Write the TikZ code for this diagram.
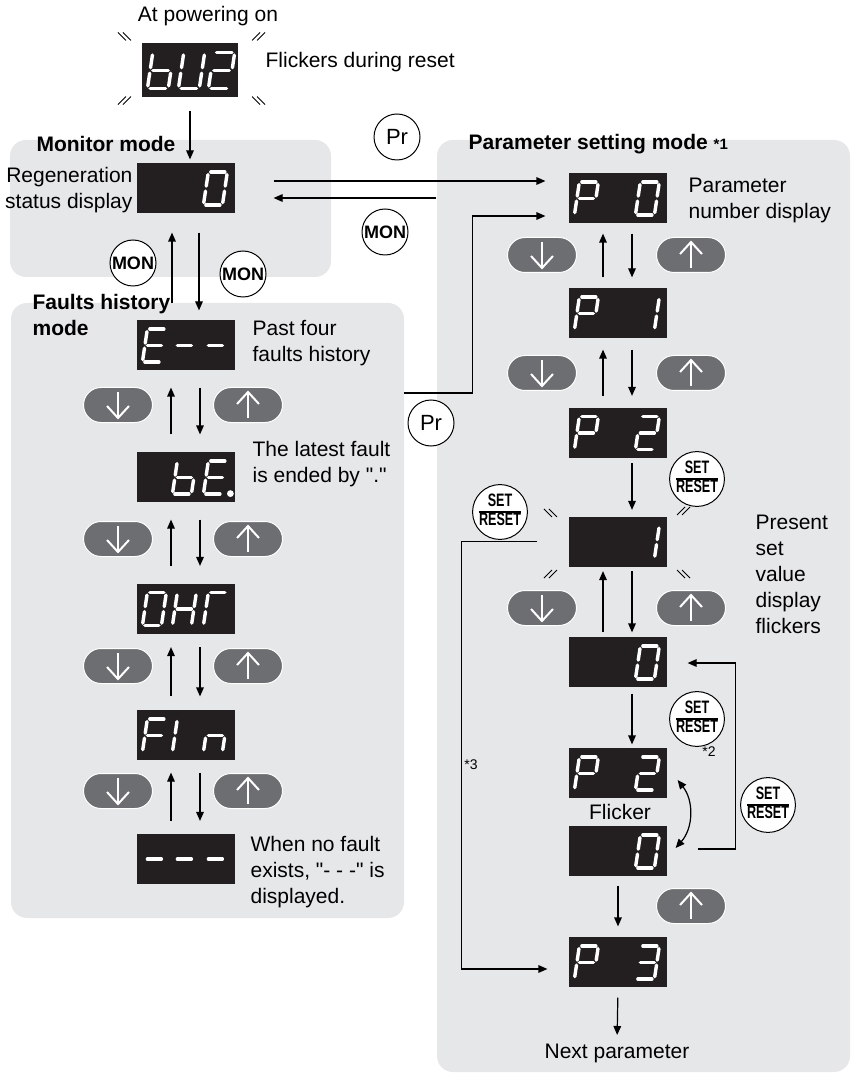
\documentclass[tikz,border=0pt]{standalone}
\usepackage{fontspec}
\setmainfont{Liberation Sans}
\usepackage{graphicx}
\usetikzlibrary{arrows.meta, calc}

\definecolor{panelgray}{HTML}{E6E7E8}
\definecolor{btngray}{HTML}{6D6E71}
\definecolor{dispblack}{HTML}{231F20}

% seven segment pieces, cell 19 x 33
\newcommand{\sgma}{\draw[segline] (2.5,-33) -- (16.5,-33);}
\newcommand{\sgmb}{\draw[segline] (19,-30.5) -- (19,-19);}
\newcommand{\sgmc}{\draw[segline] (19,-14) -- (19,-2.5);}
\newcommand{\sgmd}{\draw[segline] (2.5,0) -- (16.5,0);}
\newcommand{\sgme}{\draw[segline] (0,-2.5) -- (0,-14);}
\newcommand{\sgmf}{\draw[segline] (0,-19) -- (0,-30.5);}
\newcommand{\sgmg}{\draw[segline] (2.5,-16.5) -- (16.5,-16.5);}
\newcommand{\segdigit}[3][1]{%
  \begin{scope}[shift={(#2)}, scale=#1, xslant=0.15]
    \foreach \s in {#3} {\csname sgm\s\endcsname}
  \end{scope}}
\newcommand{\showdigits}[4]{%
  \segdigit{$(#1.south west)+(6,-8.5)$}{#2}%
  \segdigit{$(#1.south west)+(36,-8.5)$}{#3}%
  \segdigit{$(#1.south west)+(67,-8.5)$}{#4}}
\newcommand{\updown}[3]{%
  \draw[->, shorten <=#3, shorten >=#3] ([xshift=-7.5pt]#2.north) -- ([xshift=-7.5pt]#1.south);
  \draw[->, shorten <=#3, shorten >=#3] ([xshift=7pt]#1.south) -- ([xshift=7pt]#2.north);}
\newcommand{\flick}[2]{%
  \begin{scope}[shift={(#1)}]
    \foreach \d in {-2.5,2.5} {\draw[flkline] (\d-4,-4*#2) -- (\d+4,4*#2);}
  \end{scope}}
\newcommand{\setreset}{\scalebox{0.7}[1]{\fontsize{9}{9}\selectfont\bfseries
  \setlength{\arrayrulewidth}{0.8pt}\renewcommand{\arraystretch}{0.82}%
  \begin{tabular}{@{}c@{}}SET\\\hline RESET\end{tabular}}}

\tikzset{
  txt/.style={font=\fontsize{10.5}{13}\selectfont, inner sep=0pt, align=left},
  ttl/.style={txt, font=\fontsize{10.5}{13}\selectfont\bfseries},
  note/.style={font=\fontsize{7}{8}\selectfont, inner sep=0pt},
  disp/.style={fill=dispblack, minimum width=49pt, minimum height=25pt, inner sep=0pt},
  keycirc/.style={circle, draw, fill=white, minimum size=23pt, inner sep=0pt, line width=0.5pt},
  monkey/.style={keycirc, font=\fontsize{9}{10}\selectfont\bfseries},
  prkey/.style={keycirc, font=\fontsize{11}{11}\selectfont},
  segline/.style={white, line width=1.7pt, line cap=round},
  flkline/.style={black, line width=0.5pt},
  btn/.style={rectangle, rounded corners=8.75pt, minimum width=34.5pt, minimum height=17.5pt,
    fill=btngray, draw=white, line width=0.5pt, inner sep=0pt},
  btndown/.style={btn, path picture={
    \draw[white, line width=1pt, sharp corners] ($(path picture bounding box.center)+(0,-13)$) -- ($(path picture bounding box.center)+(0,13)$);
    \draw[white, line width=1pt, sharp corners] ($(path picture bounding box.center)+(-11,1)$) -- ($(path picture bounding box.center)+(0,13)$) -- ($(path picture bounding box.center)+(11,1)$);}},
  btnup/.style={btn, path picture={
    \draw[white, line width=1pt, sharp corners] ($(path picture bounding box.center)+(0,13)$) -- ($(path picture bounding box.center)+(0,-13)$);
    \draw[white, line width=1pt, sharp corners] ($(path picture bounding box.center)+(-11,-1)$) -- ($(path picture bounding box.center)+(0,-13)$) -- ($(path picture bounding box.center)+(11,-1)$);}},
}

\begin{document}
\begin{tikzpicture}[x=0.5pt, y=-0.5pt, line width=0.6pt, >={Triangle[length=4.5pt,width=3.8pt]}]
    \useasboundingbox (0,0) rectangle (851,1074);

    \fill[panelgray, rounded corners=8pt] (10,140) rectangle (331,277);
    \fill[panelgray, rounded corners=8pt] (11,303) rectangle (404,918);
    \fill[panelgray, rounded corners=8pt] (437,140) rectangle (850,1072);

    % power on
    \node[txt] (pwr) at (208,16) {At powering on};
    \node[disp, minimum width=48pt, minimum height=27pt] (bu) at (190,70) {};
    \segdigit[1.1]{$(bu.south west)+(6,-9)$}{c,d,e,f,g}
    \segdigit[1.1]{$(bu.south west)+(37,-9)$}{b,c,d,e,f}
    \segdigit[1.1]{$(bu.south west)+(67,-9)$}{a,b,d,e,g}
    \flick{$(bu.north west)+(-17,-6)$}{1}
    \flick{$(bu.north east)+(20,-6)$}{-1}
    \flick{$(bu.south west)+(-17,3)$}{-1}
    \flick{$(bu.south east)+(20,3)$}{1}
    \node[txt, anchor=west] (flk) at (265,62) {Flickers during reset};

    % monitor mode
    \node[ttl] (monlbl) at (106,144) {Monitor mode};
    \node[disp] (mon) at (186,188) {};
    \showdigits{mon}{}{}{a,b,c,d,e,f}
    \node[txt, align=right, anchor=east] (regen) at (133,190) {Regeneration\\status display};
    \draw[->, shorten <=6.5pt, shorten >=1.5pt] (bu.south) -- (bu.south |- mon.north);
    \node[monkey] (monup) at (133,263) {MON};
    \node[monkey] (mondn) at (243,274) {MON};

    % faults history mode
    \node[ttl, anchor=west] (fltlbl) at (32,315) {Faults history\\mode};
    \node[disp] (eh) at (186,345) {};
    \showdigits{eh}{a,d,e,f,g}{g}{g}
    \node[txt, anchor=west] (eht) at (252,343) {Past four\\faults history};
    \node[btndown] (fdn1) at (118,405) {};
    \node[btnup] (fup1) at (248,405) {};
    \node[disp] (be) at (186,477) {};
    \showdigits{be}{}{c,d,e,f,g}{a,d,e,f,g}
    \fill[white] ($(be.south west)+(94,-9)$) circle (1.7pt);
    \node[txt, anchor=west] (bet) at (252,464) {The latest fault\\is ended by \textquotedbl.\textquotedbl};
    \node[btndown] (fdn2) at (118,539) {};
    \node[btnup] (fup2) at (248,539) {};
    \node[disp] (ohr) at (186,608.5) {};
    \showdigits{ohr}{a,b,c,d,e,f}{b,c,e,f,g}{a,e,f}
    \node[btndown] (fdn3) at (118,666) {};
    \node[btnup] (fup3) at (248,666) {};
    \node[disp] (fin) at (186,735) {};
    \showdigits{fin}{a,e,f,g}{e,f}{c,e,g}
    \node[btndown] (fdn4) at (118,791) {};
    \node[btnup] (fup4) at (248,791) {};
    \node[disp] (dash) at (186,858.5) {};
    \showdigits{dash}{g}{g}{g}
    \node[txt, anchor=west] (dasht) at (250,872) {When no fault\\exists, \textquotedbl- - -\textquotedbl\ is\\displayed.};

    \draw[->, shorten >=9.5pt] ([xshift=-7pt, yshift=-44.5pt]mon.south) -- ([xshift=-7pt]mon.south);
    \draw[->, shorten <=9.5pt, shorten >=4.5pt] ([xshift=6.5pt]mon.south) -- ([xshift=6.5pt]eh.north);
    \updown{eh}{be}{8.5pt}
    \updown{be}{ohr}{8.5pt}
    \updown{ohr}{fin}{6.5pt}
    \updown{fin}{dash}{6pt}

    % parameter setting mode
    \node[ttl, anchor=west] (parlbl) at (468,144) {Parameter setting mode {\fontsize{7.5}{9}\selectfont *1}};
    \node[disp] (p0) at (618,198) {};
    \showdigits{p0}{a,b,e,f,g}{}{a,b,c,d,e,f}
    \node[txt, anchor=west] (p0t) at (688,200) {Parameter\\number display};
    \node[btndown] (pdn1) at (542,255) {};
    \node[btnup] (pup1) at (691,255) {};
    \node[disp] (p1) at (618,313) {};
    \showdigits{p1}{a,b,e,f,g}{}{b,c}
    \node[btndown] (pdn2) at (542,373) {};
    \node[btnup] (pup2) at (691,373) {};
    \node[disp] (p2) at (618,432.5) {};
    \showdigits{p2}{a,b,e,f,g}{}{a,b,d,e,g}
    \updown{p0}{p1}{5pt}
    \updown{p1}{p2}{5.5pt}

    \node[keycirc] (sr1) at (697,479) {\setreset};
    \node[keycirc] (sr2) at (500,512) {\setreset};
    \node[disp] (v1) at (618,541.5) {};
    \showdigits{v1}{}{}{b,c}
    \flick{$(v1.north west)+(-18,-3)$}{1}
    \flick{$(v1.north east)+(16,-5)$}{-1}
    \flick{$(v1.south west)+(-18,7)$}{-1}
    \flick{$(v1.south east)+(16,7)$}{1}
    \node[txt, anchor=west] (v1t) at (755,574) {Present\\set\\value\\display\\flickers};
    \node[btndown] (pdn3) at (542,608) {};
    \node[btnup] (pup3) at (691,608) {};
    \node[disp] (v0) at (618,662) {};
    \showdigits{v0}{}{}{a,b,c,d,e,f}
    \node[keycirc] (sr3) at (697,719) {\setreset};
    \node[note] (n2) at (709,752) {*2};
    \node[disp] (p2b) at (618,773) {};
    \showdigits{p2b}{a,b,e,f,g}{}{a,b,d,e,g}
    \node[txt] (flkr) at (620,812) {Flicker};
    \node[disp] (v0b) at (618,851) {};
    \showdigits{v0b}{}{}{a,b,c,d,e,f}
    \node[keycirc] (sr4) at (768,805) {\setreset};
    \node[btnup] (pup4) at (691,906) {};
    \node[disp] (p3) at (618,962) {};
    \showdigits{p3}{a,b,e,f,g}{}{a,b,c,d,g}
    \node[txt] (nextp) at (617,1053) {Next parameter};
    \node[note] (n3) at (471,765) {*3};

    \draw[->, shorten <=2.5pt, shorten >=3pt] ([xshift=7pt]p2.south) -- ([xshift=7pt]v1.north);
    \updown{v1}{v0}{2pt}
    \draw[->, shorten <=3pt, shorten >=1.5pt] ([xshift=7pt]v0.south) -- ([xshift=7pt]p2b.north);
    \draw[<->] ($(p2b.east)+(10,7)$) to[bend left=40] ($(v0b.east)+(8,-3)$);
    \draw[->] ($(v0b.east)+(30,-2)$) -| ($(v0.east)+(68,1)$) -- ($(v0.east)+(20,1)$);
    \draw[->, shorten <=4.5pt, shorten >=5pt] (v0b.south) -- (p3.north);
    \draw[->, shorten <=5pt, shorten >=4pt] (p3.south) -- (nextp.north);
    \draw[->] ($(v1.west)+(-31,0)$) -| ($(p3.west)+(-107,7)$) -- ($(p3.west)+(-21,7)$);

    % between the modes
    \node[prkey] (prtop) at (397,137) {Pr};
    \node[monkey] (monr) at (385,232) {MON};
    \draw[->] ($(mon.east)+(38,-7)$) -- ($(p0.west)+(-23,-17)$);
    \draw[->] ($(p0.west)+(-132,0)$) -- ($(mon.east)+(38,10)$);
    \coordinate (fltedge) at (404,393);
    \draw[->] (fltedge) -| ($(p0.west)+(-96,18)$) -- ($(p0.west)+(-23,18)$);
    \node[prkey] (prmid) at (431,423) {Pr};
\end{tikzpicture}
\end{document}
